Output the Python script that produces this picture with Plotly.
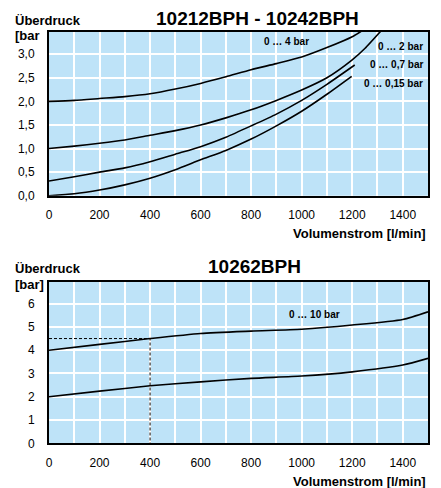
import plotly.graph_objects as go

# ---- data (top chart: 10212BPH - 10242BPH) ----
flow_4bar = [0, 100, 200, 300, 400, 500, 600, 700, 800, 900, 1000, 1100, 1200, 1240]
p_4bar = [2.0, 2.02, 2.06, 2.1, 2.16, 2.26, 2.38, 2.52, 2.67, 2.8, 2.94, 3.14, 3.37, 3.5]

flow_2bar = [0, 100, 200, 300, 400, 500, 600, 700, 800, 900, 1000, 1100, 1200, 1250, 1315]
p_2bar = [1.0, 1.05, 1.11, 1.18, 1.28, 1.38, 1.5, 1.65, 1.82, 2.02, 2.24, 2.5, 2.88, 3.12, 3.5]

flow_07bar = [0, 100, 200, 300, 400, 500, 600, 700, 800, 900, 1000, 1100, 1210]
p_07bar = [0.31, 0.4, 0.5, 0.59, 0.72, 0.88, 1.04, 1.24, 1.48, 1.73, 2.02, 2.36, 2.77]

flow_015bar = [0, 100, 200, 300, 400, 500, 600, 700, 800, 900, 1000, 1100, 1198]
p_015bar = [0.0, 0.04, 0.12, 0.23, 0.37, 0.55, 0.76, 0.96, 1.2, 1.48, 1.79, 2.15, 2.53]

# ---- data (bottom chart: 10262BPH) ----
flow_10bar = [0, 200, 400, 600, 800, 1000, 1200, 1400, 1500]
p_10bar_up = [4.0, 4.25, 4.5, 4.72, 4.82, 4.9, 5.08, 5.32, 5.65]
p_10bar_low = [2.0, 2.24, 2.47, 2.64, 2.79, 2.89, 3.07, 3.36, 3.65]

read_flow = 400
read_p = 4.5

top_yticks = [0, 0.5, 1.0, 1.5, 2.0, 2.5, 3.0]
bot_yticks = [0, 1, 2, 3, 4, 5, 6]
x_ticks = [0, 200, 400, 600, 800, 1000, 1200, 1400]

W, H = 441, 488
FONT = "Liberation Sans, Arial, Helvetica, sans-serif"
BG = "#bee3f8"

def px(x):
    return x / W

def py(y):
    return 1 - y / H

fig = go.Figure()

line = dict(color="black", width=1.6, shape="spline", smoothing=0.6)
for fx, fy in [(flow_4bar, p_4bar), (flow_2bar, p_2bar), (flow_07bar, p_07bar), (flow_015bar, p_015bar)]:
    fig.add_trace(go.Scatter(x=fx, y=fy, mode="lines", line=line, xaxis="x", yaxis="y",
                             showlegend=False, hoverinfo="skip"))

for fy in [p_10bar_up, p_10bar_low]:
    fig.add_trace(go.Scatter(x=flow_10bar, y=fy, mode="lines", line=line, xaxis="x2", yaxis="y2",
                             showlegend=False, hoverinfo="skip"))

fig.add_trace(go.Scatter(x=[0, read_flow, read_flow], y=[read_p, read_p, 0], mode="lines",
                         line=dict(color="black", width=1, dash="3px,2px"),
                         xaxis="x2", yaxis="y2", showlegend=False, hoverinfo="skip"))

xdom = [49 / W, 428 / W]
common_x = dict(
    range=[0, 1500], tickvals=x_ticks, showgrid=True, gridcolor="white", gridwidth=2,
    minor=dict(dtick=100, tick0=0, showgrid=True, gridcolor="white", gridwidth=2),
    showline=True, mirror=True, linecolor="black", linewidth=2, zeroline=False,
    tickfont=dict(family=FONT, size=12, color="black"), ticks="", ticklabelstandoff=7,
    domain=xdom, fixedrange=True, automargin=False,
)
common_y = dict(
    showgrid=True, gridcolor="white", gridwidth=2,
    showline=True, mirror=True, linecolor="black", linewidth=2, zeroline=False,
    tickfont=dict(family=FONT, size=12, color="black"), ticks="", ticklabelstandoff=10,
    fixedrange=True, automargin=False,
)

fig.update_layout(
    width=W, height=H,
    margin=dict(l=0, r=0, t=0, b=0),
    paper_bgcolor="white", plot_bgcolor=BG,
    separators=",.",
    xaxis=dict(**common_x, anchor="y"),
    yaxis=dict(**common_y, range=[0, 3.47], tickvals=top_yticks, tickformat=".1f",
               domain=[1 - 195.7 / H, 1 - 32 / H], anchor="x"),
    xaxis2=dict(**common_x, anchor="y2"),
    yaxis2=dict(**common_y, range=[0, 6.93], tickvals=bot_yticks, tickformat="d",
                domain=[1 - 443.3 / H, 1 - 282 / H], anchor="x2"),
)

def ann(text, x, y, size, xanchor="center", xref="paper", yref="paper"):
    fig.add_annotation(text=text, x=x, y=y, xref=xref, yref=yref, xanchor=xanchor, yanchor="middle",
                       showarrow=False, font=dict(family=FONT, size=size, color="black"))

# titles and axis labels
ann("<b>10212BPH - 10242BPH</b>", px(257), py(18.3), 19)
ann("<b>Überdruck</b>", px(13), py(20), 13, "left")
ann("<b>[bar</b>", px(13), py(35.7), 13, "left")
ann("<b>Volumenstrom [l/min]</b>", px(428), py(233), 13, "right")

ann("<b>10262BPH</b>", px(254), py(266.7), 19)
ann("<b>Überdruck</b>", px(13), py(268), 13, "left")
ann("<b>[bar]</b>", px(13), py(284.3), 13, "left")
ann("<b>Volumenstrom [l/min]</b>", px(428), py(481), 13, "right")

# curve labels (data coordinates)
ann("<b>0 … 4 bar</b>", 938, 3.26, 10, "center", "x", "y")
ann("<b>0 … 2 bar</b>", 1488, 3.17, 10, "right", "x", "y")
ann("<b>0 … 0,7 bar</b>", 1488, 2.78, 10, "right", "x", "y")
ann("<b>0 … 0,15 bar</b>", 1488, 2.38, 10, "right", "x", "y")
ann("<b>0 … 10 bar</b>", 1049, 5.53, 10, "center", "x2", "y2")

fig.write_html(
    "out.html",
    config={"displayModeBar": False},
    post_script="document.body.style.margin='0';document.body.style.overflow='hidden';",
)
